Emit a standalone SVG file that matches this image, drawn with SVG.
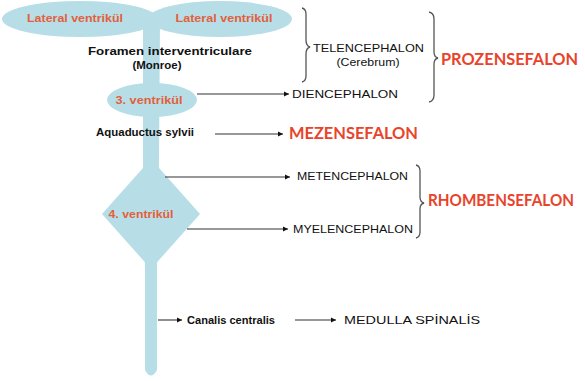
<svg xmlns="http://www.w3.org/2000/svg" width="585" height="381" viewBox="0 0 585 381">
<defs>
<marker id="ah" markerWidth="6" markerHeight="6" refX="5" refY="3" orient="auto" markerUnits="userSpaceOnUse">
<path d="M0,0.5 L5,3 L0,5.5 Z" fill="#111"/>
</marker>
<style>
.shape{fill:#b7dee7}
.vl{font-family:"Liberation Sans",Arial,sans-serif;font-weight:bold;font-size:11px;fill:#e2603c}
.bk{font-family:"Liberation Sans",Arial,sans-serif;font-weight:bold;font-size:10px;fill:#111}
.nm{font-family:"Liberation Sans",Arial,sans-serif;font-size:11px;fill:#111}
.big{font-family:Lato,"Open Sans",sans-serif;font-weight:bold;font-size:17px;fill:#e8432b}
.conn line{stroke:#333;stroke-width:1.1;marker-end:url(#ah)}
.brace{fill:none;stroke:#555;stroke-width:1.3}
</style>
</defs>
<rect width="585" height="381" fill="#fff"/>

<g id="stem">
<path class="shape" d="M143,20 L160,20 L159,160 L157,268 L157,370 Q151,381 145,370 L145,268 L143,160 Z"/>
</g>
<g id="lateral-left">
<ellipse class="shape" cx="80" cy="19" rx="78" ry="18"/>
<text class="vl" x="75" y="22" text-anchor="middle" textLength="96" lengthAdjust="spacingAndGlyphs">Lateral ventrikül</text>
</g>
<g id="lateral-right">
<ellipse class="shape" cx="220" cy="19" rx="72" ry="18"/>
<text class="vl" x="224" y="22" text-anchor="middle" textLength="97" lengthAdjust="spacingAndGlyphs">Lateral ventrikül</text>
</g>
<g id="foramen">
<text class="bk" x="170" y="55" text-anchor="middle" textLength="164" lengthAdjust="spacingAndGlyphs">Foramen interventriculare</text>
<text class="bk" x="157" y="69" text-anchor="middle" textLength="49" lengthAdjust="spacingAndGlyphs">(Monroe)</text>
</g>
<g id="ventricle3">
<ellipse class="shape" cx="152" cy="100" rx="45" ry="17"/>
<text class="vl" x="149" y="104" text-anchor="middle" textLength="67" lengthAdjust="spacingAndGlyphs">3. ventrikül</text>
</g>
<g id="aquaductus">
<text class="bk" x="145" y="136" text-anchor="middle" textLength="98" lengthAdjust="spacingAndGlyphs">Aquaductus sylvii</text>
</g>
<g id="ventricle4">
<path class="shape" d="M151,159 L200,214 L151,269 L102,214 Z"/>
<text class="vl" x="141" y="218" text-anchor="middle" textLength="65" lengthAdjust="spacingAndGlyphs">4. ventrikül</text>
</g>
<g id="canalis">
<text class="bk" x="187" y="324" textLength="88" lengthAdjust="spacingAndGlyphs">Canalis centralis</text>
</g>

<g id="telencephalon">
<text class="nm" x="313" y="52" textLength="111" lengthAdjust="spacingAndGlyphs">TELENCEPHALON</text>
<text class="nm" x="368" y="66" text-anchor="middle" textLength="63" lengthAdjust="spacingAndGlyphs">(Cerebrum)</text>
</g>
<g id="diencephalon">
<text class="nm" x="292" y="98" textLength="106" lengthAdjust="spacingAndGlyphs">DIENCEPHALON</text>
</g>
<g id="mezensefalon">
<text class="big" x="289" y="139" textLength="129" lengthAdjust="spacingAndGlyphs">MEZENSEFALON</text>
</g>
<g id="metencephalon">
<text class="nm" x="297" y="180" textLength="111" lengthAdjust="spacingAndGlyphs">METENCEPHALON</text>
</g>
<g id="myelencephalon">
<text class="nm" x="293" y="233" textLength="120" lengthAdjust="spacingAndGlyphs">MYELENCEPHALON</text>
</g>
<g id="prozensefalon">
<text class="big" x="441" y="65" textLength="137" lengthAdjust="spacingAndGlyphs">PROZENSEFALON</text>
</g>
<g id="rhombensefalon">
<text class="big" x="428" y="206" font-size="15" textLength="146" lengthAdjust="spacingAndGlyphs">RHOMBENSEFALON</text>
</g>
<g id="medulla">
<text class="nm" x="344" y="324" font-size="13" textLength="136" lengthAdjust="spacingAndGlyphs">MEDULLA SPİNALİS</text>
</g>

<g id="braces">
<path class="brace" d="M302,8 Q306,9 306,14 L306,40 Q306,46 310,47 Q306,48 306,54 L306,76 Q306,81 302,82"/>
<path class="brace" d="M429,12 Q434,13 434,19 L434,52 Q434,57 438,58 Q434,59 434,64 L434,95 Q434,101 429,102"/>
<path class="brace" d="M416,165 Q420,166 420,171 L420,197 Q420,202 424,203 Q420,204 420,209 L420,232 Q420,237 416,238"/>
</g>

<g class="conn" id="connectors">
<line x1="197" y1="94" x2="289" y2="94"/>
<line x1="215" y1="134" x2="283" y2="134"/>
<line x1="165" y1="177" x2="290" y2="177"/>
<line x1="187" y1="229" x2="288" y2="229"/>
<line x1="158" y1="320" x2="182" y2="320"/>
<line x1="295" y1="320" x2="336" y2="320"/>
</g>
</svg>
